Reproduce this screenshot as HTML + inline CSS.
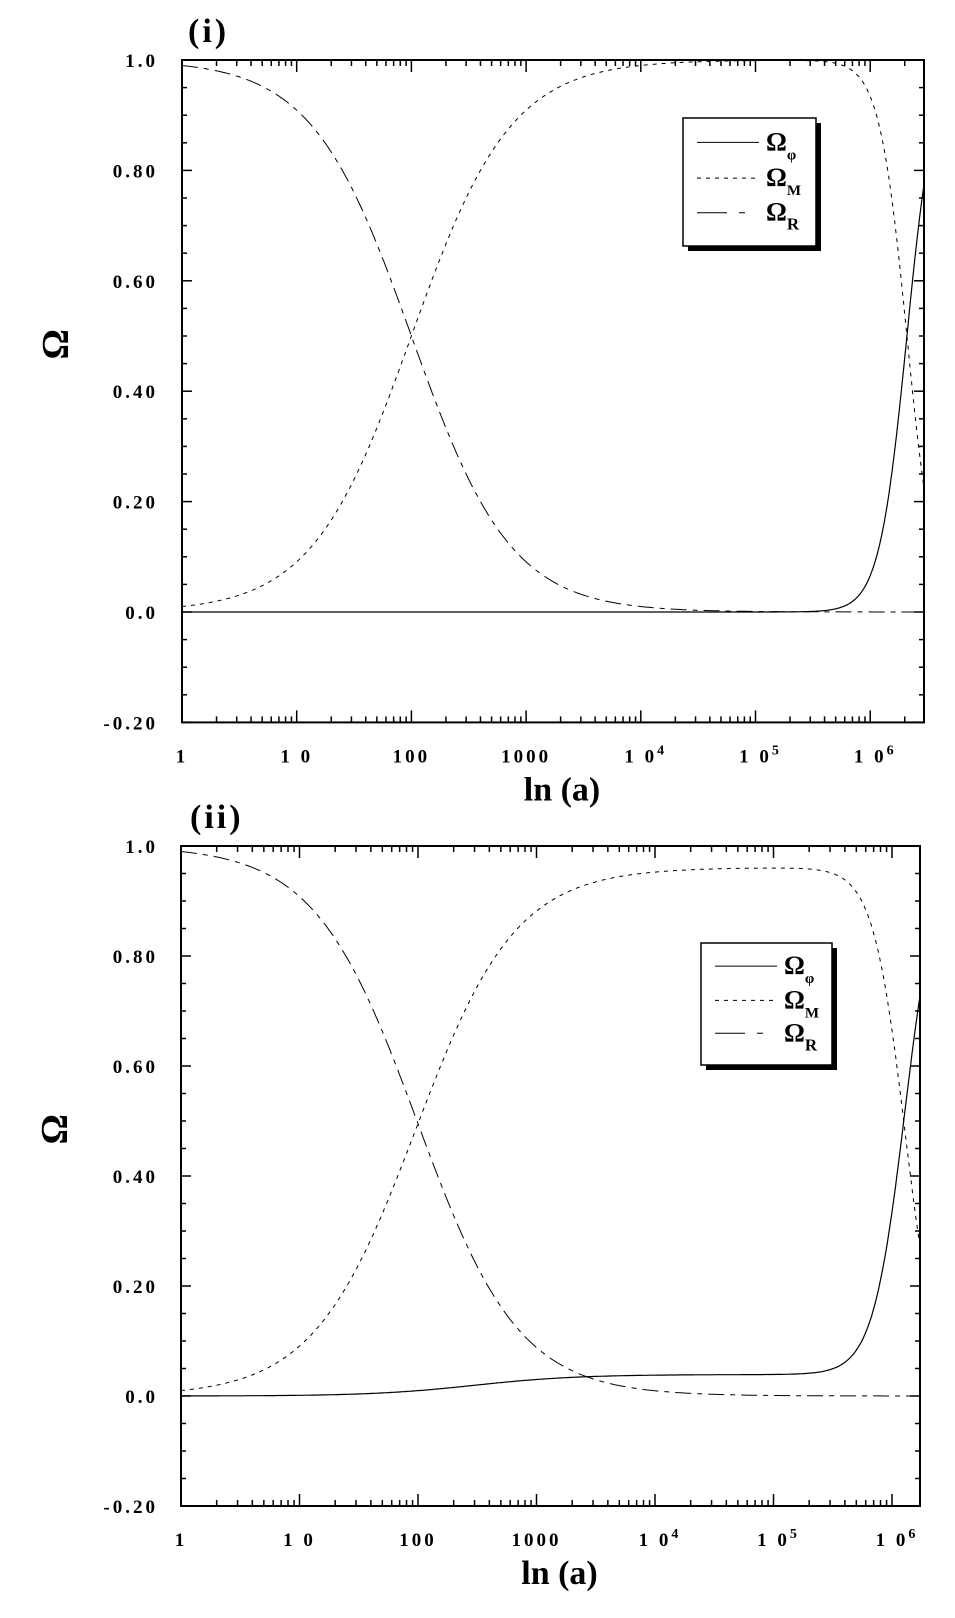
<!DOCTYPE html>
<html><head><meta charset="utf-8"><style>
html,body{margin:0;padding:0;background:#fff;}
svg{display:block;}
text{font-family:"Liberation Serif",serif;font-weight:bold;fill:#000;}
</style></head><body>
<svg id="s" width="955" height="1618" xmlns="http://www.w3.org/2000/svg"></svg>
<script>
var S=document.getElementById('s'),h='';
function L(x1,y1,x2,y2,w){h+='<line x1="'+x1+'" y1="'+y1+'" x2="'+x2+'" y2="'+y2+'" stroke="#000" stroke-width="'+(w||1)+'"/>';}
function T(x,y,t,sz,anc,extra){h+='<text x="'+x+'" y="'+y+'" font-size="'+sz+'" text-anchor="'+(anc||'middle')+'" '+(extra||'')+'>'+t+'</text>';}
function plot(P){
 var X=function(l){return P.l+l*P.dec;},Y=function(v){return P.z-v*P.u;};
 var top=Y(1),bot=Y(-0.2);
 h+='<rect x="'+P.l+'" y="'+top+'" width="'+(P.r-P.l)+'" height="'+(bot-top)+'" fill="none" stroke="#000" stroke-width="2"/>';
 for(var i=-4;i<=20;i++){var v=i*0.05,y=Y(v),len=(i%4==0)?10:5;
  L(P.l,y,P.l+len,y,1.5);L(P.r,y,P.r-len,y,1.5);}
 var yl=[[1,'1.0'],[0.8,'0.80'],[0.6,'0.60'],[0.4,'0.40'],[0.2,'0.20'],[0,'0.0'],[-0.2,'-0.20']];
 yl.forEach(function(a){T(158,Y(a[0])+7,a[1],19,'end','letter-spacing="3"');});
 for(var d=0;d<7;d++)for(var k=1;k<10;k++){var l=d+Math.log10(k);if(l>P.le)break;var x=X(l),len=(k==1)?12:6;
  L(x,bot,x,bot-len,1.5);L(x,top,x,top+len,1.5);}
 var xl=['1','1 0','100','1000','1 0<tspan dy="-8" font-size="14">4</tspan>','1 0<tspan dy="-8" font-size="14">5</tspan>','1 0<tspan dy="-8" font-size="14">6</tspan>'];
 xl.forEach(function(t,i){T(X(i)+(i>=4?5:0),bot+40,t,19,'middle','letter-spacing="3"');});
 T((P.l+P.r)/2+9,bot+78,'ln (a)',34);
 T(P.tx,top-18,P.title,34,'start','letter-spacing="3"');
 T(0,0,'Ω',38,'middle','font-family="Liberation Sans" transform="translate('+(P.l-114)+','+Y(0.485)+') rotate(-90)"');
 var pf='',pm='',pr='';
 for(var l=0;l<=P.le+1e-9;l+=0.01){var a=Math.pow(10,l);
  var R0=1/(1+a/100);var base=P.base?P.base*(a/300)/(1+a/300):0;
  var r=Math.pow(10,P.n*(l-P.lc));var f=base+(1-base)*r/(1+r);
  var R=R0*(1-f),M=1-f-R;
  var x=X(l).toFixed(1);
  pf+=(l==0?'M':'L')+x+','+Y(f).toFixed(1);pm+=(l==0?'M':'L')+x+','+Y(M).toFixed(1);pr+=(l==0?'M':'L')+x+','+Y(R).toFixed(1);}
 h+='<path d="'+pf+'" fill="none" stroke="#000" stroke-width="1.2"/>';
 h+='<path d="'+pm+'" fill="none" stroke="#000" stroke-width="1" stroke-dasharray="4,5"/>';
 h+='<path d="'+pr+'" fill="none" stroke="#000" stroke-width="1" stroke-dasharray="16,6,5,6"/>';
 var g=P.g;
 h+='<rect x="'+(g.x+5)+'" y="'+(g.y+5)+'" width="'+g.w+'" height="'+g.h+'" fill="#000"/>';
 h+='<rect x="'+g.x+'" y="'+g.y+'" width="'+g.w+'" height="'+g.h+'" fill="#fff" stroke="#000" stroke-width="1.5"/>';
 var ys=[g.y+g.h*0.19,g.y+g.h*0.47,g.y+g.h*0.74];
 h+='<line x1="'+(g.x+14)+'" x2="'+(g.x+76)+'" y1="'+ys[0]+'" y2="'+ys[0]+'" stroke="#000"/>';
 h+='<line x1="'+(g.x+14)+'" x2="'+(g.x+76)+'" y1="'+ys[1]+'" y2="'+ys[1]+'" stroke="#000" stroke-dasharray="4,5"/>';
 h+='<line x1="'+(g.x+14)+'" x2="'+(g.x+76)+'" y1="'+ys[2]+'" y2="'+ys[2]+'" stroke="#000" stroke-dasharray="30,12,6,50"/>';
 var sub=['φ','M','R'];
 for(var i=0;i<3;i++){T(g.x+83,ys[i]+8,'Ω<tspan dy="9" font-size="'+(i==2?17:15)+'"'+(i==2?' font-family="Liberation Serif"':'')+'>'+sub[i]+'</tspan>',26,'start','font-family="Liberation Sans"');}
}
plot({l:182,r:924,dec:114.7,z:612,u:552,le:6.47,n:3.6,lc:6.32,base:0,title:'(i)',tx:188,g:{x:683,y:118,w:133,h:128}});
plot({l:181,r:920,dec:118.5,z:1396,u:550,le:6.24,n:3.2,lc:6.11,base:0.039,title:'(ii)',tx:190,g:{x:701,y:943,w:131,h:122}});
S.innerHTML=h;
</script>
</body></html>
